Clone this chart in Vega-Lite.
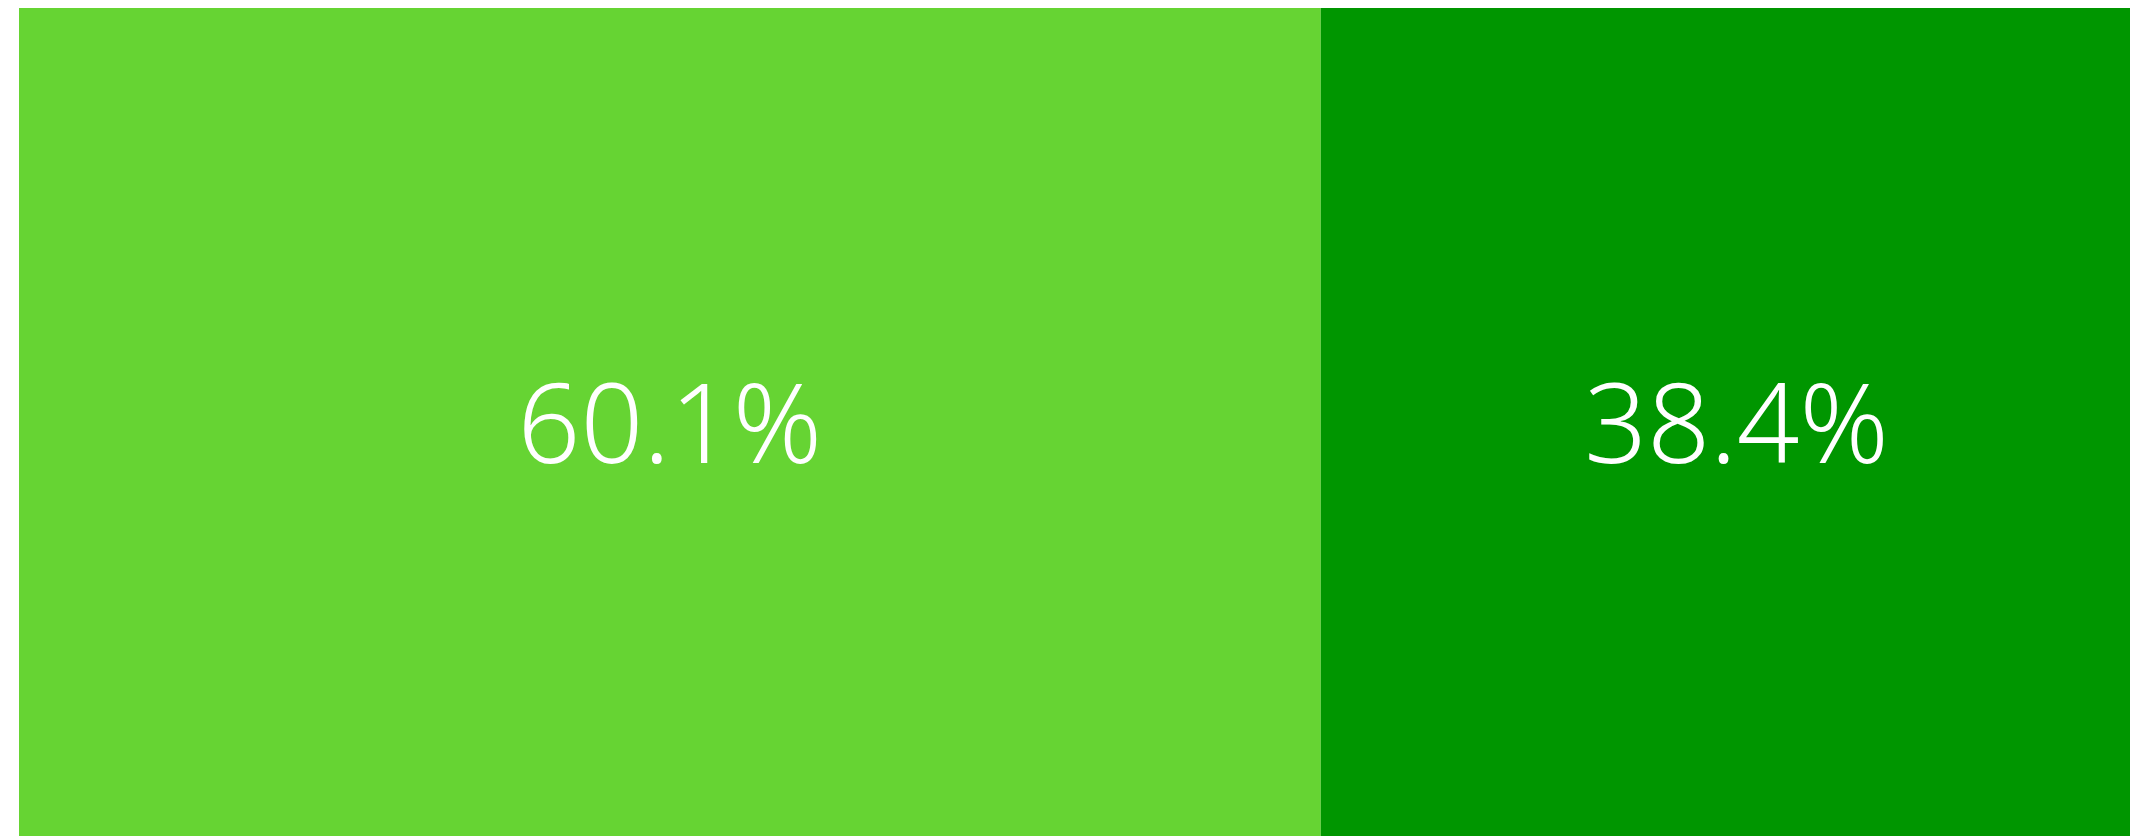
{
  "$schema": "https://vega.github.io/schema/vega-lite/v6.json",
  "autosize": {"type": "none"},
  "padding": {"left": 19, "top": 8, "right": 0, "bottom": 0},
  "width": 2166,
  "height": 829,
  "background": "white",
  "config": {"view": {"stroke": null}},
  "data": {
    "values": [
      {"group": "all", "category": "A", "value": 60.1, "label": "60.1%", "order": 1},
      {"group": "all", "category": "B", "value": 38.4, "label": "38.4%", "order": 2}
    ]
  },
  "encoding": {
    "y": {"field": "group", "type": "nominal", "axis": null, "scale": {"paddingInner": 0, "paddingOuter": 0}},
    "order": {"field": "order", "type": "quantitative"}
  },
  "layer": [
    {
      "mark": {"type": "bar", "cornerRadius": 0},
      "encoding": {
        "x": {"field": "value", "type": "quantitative", "stack": "zero", "axis": null, "scale": {"domain": [0, 100], "nice": false, "zero": true}},
        "color": {"field": "category", "type": "nominal", "legend": null, "scale": {"domain": ["A", "B"], "range": ["#66d433", "#009600"]}}
      }
    },
    {
      "mark": {"type": "text", "font": "Noto Sans", "fontSize": 110, "fontWeight": 300, "color": "white", "baseline": "alphabetic", "align": "center", "dy": 40},
      "encoding": {
        "x": {"field": "value", "type": "quantitative", "stack": "zero", "bandPosition": 0.5},
        "text": {"field": "label", "type": "nominal"}
      }
    }
  ]
}
